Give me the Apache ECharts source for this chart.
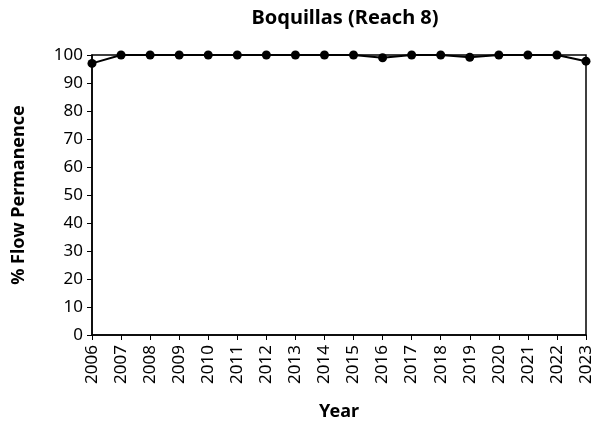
<!DOCTYPE html>
<html>

<head>
    <meta charset="UTF-8">
    <title>Boquillas (Reach 8)</title>
    <style>
        body { margin: 0; }
        #container {
            width: 604px;
            height: 430px;
        }
    </style>
</head>

<body>
    <div id="container"></div>
    <script type="text/javascript" src="https://cdn.jsdelivr.net/npm/echarts@6/dist/echarts.min.js"></script>
    <script>
        var years = ['2006', '2007', '2008', '2009', '2010', '2011', '2012', '2013', '2014',
            '2015', '2016', '2017', '2018', '2019', '2020', '2021', '2022', '2023'];
        var permanence = [97, 100, 100, 100, 100, 100, 100, 100, 100,
            100, 99, 100, 100, 99.2, 100, 100, 100, 97.8];

        var font = 'Noto Sans';
        var myChart = echarts.init(document.getElementById('container'));
        myChart.setOption({
            animation: false,
            title: {
                text: 'Boquillas (Reach 8)',
                left: 340,
                textAlign: 'center',
                top: 3,
                textStyle: { fontFamily: font, fontSize: 20, fontWeight: 'bold', color: '#000' }
            },
            grid: {
                left: 92,
                right: 18,
                top: 55,
                bottom: 95,
                show: true,
                borderColor: '#000',
                borderWidth: 1.5
            },
            xAxis: {
                type: 'category',
                data: years,
                boundaryGap: false,
                name: 'Year',
                nameLocation: 'middle',
                nameGap: 68,
                nameTextStyle: { fontFamily: font, fontSize: 18, fontWeight: 'bold', color: '#000' },
                axisLine: { lineStyle: { color: '#000', width: 1.5 } },
                axisTick: { show: true, inside: false, length: 5, lineStyle: { color: '#000' } },
                axisLabel: { rotate: 90, fontFamily: font, fontSize: 17, color: '#000', margin: 10 },
                splitLine: { show: false }
            },
            yAxis: {
                type: 'value',
                min: 0,
                max: 100,
                interval: 10,
                name: '% Flow Permanence',
                nameLocation: 'middle',
                nameGap: 64,
                nameTextStyle: { fontFamily: font, fontSize: 18, fontWeight: 'bold', color: '#000' },
                axisLine: { show: true, lineStyle: { color: '#000', width: 1.5 } },
                axisTick: { show: true, inside: false, length: 5, lineStyle: { color: '#000' } },
                axisLabel: { fontFamily: font, fontSize: 17, color: '#000', margin: 9 },
                splitLine: { show: false }
            },
            series: [
                {
                    type: 'line',
                    data: permanence,
                    symbol: 'circle',
                    symbolSize: 9,
                    lineStyle: { color: '#000', width: 2 },
                    itemStyle: { color: '#000' }
                }
            ]
        });
    </script>
</body>

</html>
